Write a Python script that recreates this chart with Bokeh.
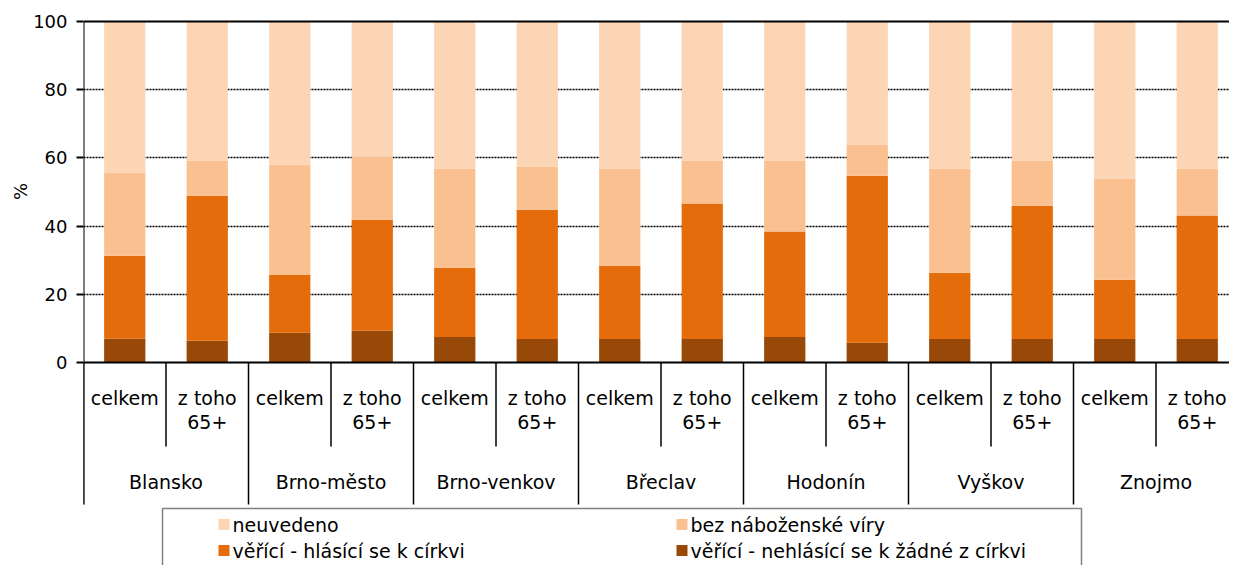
from bokeh.plotting import figure
from bokeh.models import Range1d, FixedTicker, Span, Title, ColumnDataSource
from bokeh.core.properties import value
from bokeh.embed import file_html
from bokeh.resources import INLINE

# ---------------- data ----------------
districts = ["Blansko", "Brno-město", "Brno-venkov", "Břeclav", "Hodonín", "Vyškov", "Znojmo"]
group_line1 = ["celkem", "z toho"]
group_line2 = ["", "65+"]

series_names = ["věřící - nehlásící se k žádné z církvi", "věřící - hlásící se k církvi",
                "bez náboženské víry", "neuvedeno"]
series_colors = ["#984807", "#E46C0A", "#FAC090", "#FCD5B5"]

nehlasici = [7.0, 6.4, 8.7, 9.3, 7.5, 6.9, 6.9, 6.9, 7.5, 5.8, 6.9, 6.9, 6.9, 6.9]
hlasici   = [24.3, 42.5, 17.0, 32.6, 20.3, 37.9, 21.5, 39.7, 30.9, 49.0, 19.4, 39.1, 17.4, 36.2]
bez       = [24.4, 10.3, 32.3, 18.5, 29.1, 12.6, 28.5, 12.6, 20.8, 9.1, 30.6, 13.2, 29.6, 13.8]
neuvedeno = [44.3, 40.8, 42.0, 39.6, 43.1, 42.6, 43.1, 40.8, 40.8, 36.1, 43.1, 40.8, 46.1, 43.1]

y_ticks = [0, 20, 40, 60, 80, 100]

# ---------------- layout constants ----------------
FONT = value("DejaVu Sans")
W, H = 1229, 565
LEFT = 83
PX_PER_CAT = 82.5
PX_PER_UNIT = 3.41
ZERO_PX = 362          # screen y of value 0
Y_TOP = 100.6
TOP = ZERO_PX - int(round(Y_TOP * PX_PER_UNIT))
frame_w = W - LEFT
y_min = -(H - ZERO_PX) / PX_PER_UNIT

def ydown(px):  # px below the zero line -> data units
    return -px / PX_PER_UNIT

def xpx(px):    # absolute screen x -> data units
    return (px - LEFT) / PX_PER_CAT

n = len(districts) * len(group_line1)
xs = [i + 0.5 for i in range(n)]

src = ColumnDataSource(dict(x=xs, s0=nehlasici, s1=hlasici, s2=bez, s3=neuvedeno))

p = figure(width=W, height=H, x_range=Range1d(0, frame_w / PX_PER_CAT),
           y_range=Range1d(y_min, Y_TOP), output_backend="svg", toolbar_location=None,
           min_border_left=LEFT, min_border_right=0, min_border_top=TOP,
           min_border_bottom=0, x_axis_location=None)
p.outline_line_color = None
p.background_fill_color = "white"
p.border_fill_color = "white"

# y axis
yax = p.yaxis[0]
yax.ticker = FixedTicker(ticks=y_ticks)
yax.axis_line_color = None
yax.major_tick_out = 7
yax.major_tick_in = 0
yax.minor_tick_out = 0
yax.minor_tick_in = 0
yax.major_tick_line_color = "black"
yax.major_tick_line_width = 2
yax.major_label_text_font = "DejaVu Sans"
yax.major_label_text_font_size = "18px"
yax.major_label_text_color = "black"
yax.major_label_standoff = 9

# "%" title on the left, shifted up to the middle of the 0-100 area
plot_center = ZERO_PX - 50 * PX_PER_UNIT
p.add_layout(Title(text="%", align="left", offset=H - plot_center - 8,
                   text_font="DejaVu Sans", text_font_size="18px", text_font_style="normal",
                   text_color="black", standoff=0), "left")

p.xgrid.visible = False
p.ygrid.ticker = FixedTicker(ticks=[20, 40, 60, 80])
p.ygrid.grid_line_color = "black"
p.ygrid.grid_line_dash = "2 1"
p.ygrid.grid_line_width = 1.6

# bars
p.vbar_stack(["s0", "s1", "s2", "s3"], x="x", width=0.5, source=src,
             color=series_colors, line_color=None)

# solid lines at 0 and 100
p.add_layout(Span(location=0, dimension="width", line_color="black", line_width=2))
p.add_layout(Span(location=100, dimension="width", line_color="black", line_width=2))

# left axis line extending into the category table
p.segment(x0=[0], y0=[100], x1=[0], y1=[ydown(142)], line_color="black", line_width=2)

# separators
inner_x = [i for i in range(1, n + 1, 2)]
outer_x = [i for i in range(0, n + 1, 2)]
p.segment(x0=inner_x, y0=[0] * len(inner_x), x1=inner_x, y1=[ydown(84)] * len(inner_x),
          line_color="black", line_width=1.5)
p.segment(x0=outer_x, y0=[0] * len(outer_x), x1=outer_x, y1=[ydown(142)] * len(outer_x),
          line_color="black", line_width=1.5)

# group labels
l1 = [group_line1[i % 2] for i in range(n)]
l2 = [group_line2[i % 2] for i in range(n)]
p.text(x=xs, y=[ydown(35)] * n, text=l1, text_font=FONT, text_font_size="19px",
       text_align="center", text_baseline="alphabetic", text_color="black")
p.text(x=xs, y=[ydown(59)] * n, text=l2, text_font=FONT, text_font_size="19px",
       text_align="center", text_baseline="alphabetic", text_color="black")
dx = [2 * j + 1 for j in range(len(districts))]
p.text(x=dx, y=[ydown(119)] * len(districts), text=districts, text_font=FONT,
       text_font_size="19px", text_align="center", text_baseline="alphabetic", text_color="black")

# legend box
p.quad(left=[xpx(162)], right=[xpx(1081)], top=[ydown(146)], bottom=[y_min - 20],
       fill_color="white", line_color="#808080", line_width=1.5)
leg_order = [3, 2, 1, 0]  # neuvedeno, bez, hlásící, nehlásící
leg_sw_x = [xpx(223.5), xpx(681.5), xpx(223.5), xpx(681.5)]
leg_sw_y = [ydown(162), ydown(162), ydown(188), ydown(188)]
leg_tx_x = [xpx(232), xpx(690), xpx(232), xpx(690)]
leg_tx_y = [ydown(162), ydown(162), ydown(188), ydown(188)]
p.scatter(x=leg_sw_x, y=leg_sw_y, marker="square", size=11,
          color=[series_colors[k] for k in leg_order], line_color=None)
p.text(x=leg_tx_x, y=leg_tx_y, text=[series_names[k] for k in leg_order], text_font=FONT,
       text_font_size="19px", text_align="left", text_baseline="middle", text_color="black")

open("out.html", "w").write(file_html(p, INLINE))
